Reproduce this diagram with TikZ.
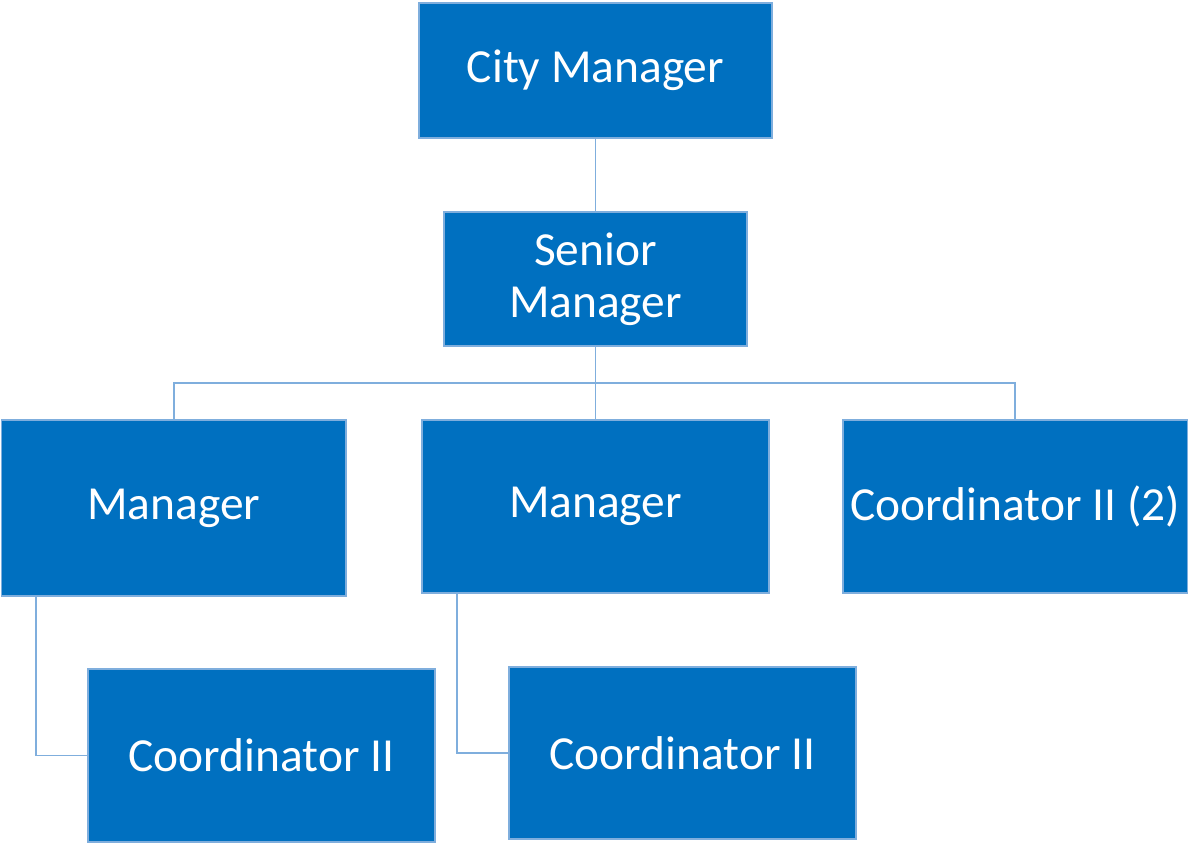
\documentclass[tikz,border=0pt]{standalone}
\usepackage{fontspec}
\setmainfont{Carlito}
\definecolor{boxfill}{HTML}{0070C0}
\definecolor{boxline}{HTML}{7FAEDD}
\begin{document}
\begin{tikzpicture}[x=0.02cm,y=-0.02cm,
  orgbox/.style={draw=boxline,line width=0.9pt,fill=boxfill,text=white,
    font=\fontsize{27}{29.5}\selectfont,align=center,inner sep=0pt},
  link/.style={draw=boxline,line width=0.9pt}]
\useasboundingbox (0,0) rectangle (1189,844);
\newcommand{\obox}[6]{%
  \node[orgbox,minimum width={(#4-#2)*0.02cm},minimum height={(#5-#3)*0.02cm}] (#1) at ({(#2+#4)/2},{(#3+#5)/2}) {#6};}
\obox{city}{419}{3}{772}{138}{City Manager}
\obox{senior}{444}{212}{747}{346}{Senior\\Manager}
\obox{mgrA}{1.5}{420}{346}{596}{Manager}
\obox{mgrB}{422}{420}{769}{593}{Manager}
\obox{coordC}{843}{420}{1187.5}{593}{Coordinator II (2)}
\obox{coordA}{88}{669}{435}{842}{Coordinator II}
\obox{coordB}{509}{667}{856}{839}{Coordinator II}
\coordinate (bus) at (senior.south |- 0,383);
\draw[link] (city.south) -- (senior.north);
\draw[link] (senior.south) -- (bus);
\draw[link] (bus) -| (mgrA.north);
\draw[link] (bus) -- (bus |- mgrB.north);
\draw[link] (bus) -| (coordC.north);
\draw[link] (mgrA.south -| 36,0) |- (coordA.west);
\draw[link] (mgrB.south -| 457,0) |- (coordB.west);
\end{tikzpicture}
\end{document}
